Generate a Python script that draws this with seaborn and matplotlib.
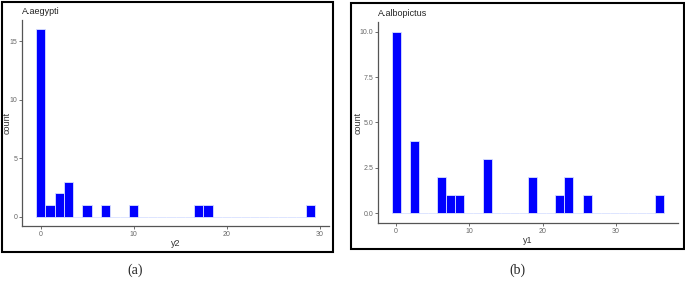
import matplotlib
matplotlib.use("Agg")
import matplotlib.pyplot as plt
import seaborn as sns
from matplotlib.patches import Rectangle
from matplotlib.ticker import FormatStrFormatter

# (a) A.aegypti: bin centres (binwidth 1) and counts
y2_bins = [0, 1, 2, 3, 5, 7, 10, 17, 18, 29]
y2_counts = [16, 1, 2, 3, 1, 1, 1, 1, 1, 1]

# (b) A.albopictus: bin centres (binwidth 36/29) and counts
y1_bins = [0, 2.48, 6.21, 7.45, 8.69, 12.41, 18.62, 22.34, 23.59, 26.07, 36]
y1_counts = [10, 4, 2, 1, 1, 3, 2, 1, 2, 1, 1]

sns.set_style("ticks")
plt.rcParams["font.family"] = ["Liberation Sans", "DejaVu Sans"]

W, H = 685, 282
fig = plt.figure(figsize=(W / 100, H / 100), dpi=100)


def px_axes(left, top, right, bottom):
    return fig.add_axes([left / W, 1 - bottom / H, (right - left) / W, (bottom - top) / H])


def hist_panel(ax, bins, counts, width, lo, hi, title, xlabel, xlim, ylim, yticks, yfmt, ylab_x):
    sns.histplot(x=bins, weights=counts, binwidth=width,
                 binrange=(lo - width / 2, hi + width / 2),
                 color="#0000FF", alpha=1, edgecolor="#D8E0FF", linewidth=0.6, ax=ax)
    ax.set_xlim(*xlim)
    ax.set_ylim(*ylim)
    ax.set_xticks([0, 10, 20, 30])
    ax.set_yticks(yticks)
    ax.yaxis.set_major_formatter(FormatStrFormatter(yfmt))
    for s in ["top", "right"]:
        ax.spines[s].set_visible(False)
    for s in ["left", "bottom"]:
        ax.spines[s].set_color("#555555")
        ax.spines[s].set_linewidth(0.9)
    ax.tick_params(colors="#555555", labelcolor="#666666", labelsize=5,
                   length=2, width=0.6, pad=1.5)
    ax.set_title(title, loc="left", fontsize=6.5, color="#222222", pad=4)
    ax.set_xlabel(xlabel, fontsize=6.5, color="#333333", labelpad=1)
    ax.set_ylabel("count", fontsize=6.5, color="#333333")
    ax.yaxis.set_label_coords(ylab_x, 0.5)


ax1 = px_axes(22, 20, 329, 226)
hist_panel(ax1, y2_bins, y2_counts, 1.0, 0, 29, "A.aegypti", "y2",
           (-2, 31), (-0.8, 16.8), [0, 5, 10, 15], "%d", (12 - 22) / 307)

ax2 = px_axes(378, 22, 678, 223)
hist_panel(ax2, y1_bins, y1_counts, 36 / 29, 0, 36, "A.albopictus", "y1",
           (-2.48, 38.48), (-0.525, 10.525), [0, 2.5, 5, 7.5, 10], "%.1f",
           (363 - 378) / 300)

# panel frames
for (l, t, r, b) in [(1.5, 1.5, 333, 252), (351, 2.5, 683.5, 249)]:
    fig.add_artist(Rectangle((l / W, 1 - b / H), (r - l) / W, (b - t) / H,
                             transform=fig.transFigure, fill=False,
                             edgecolor="black", linewidth=1.5))

fig.text(135 / W, 1 - 270 / H, "(a)", ha="center", va="center",
         fontsize=10, family=["Liberation Serif", "DejaVu Serif"])
fig.text(517 / W, 1 - 270 / H, "(b)", ha="center", va="center",
         fontsize=10, family=["Liberation Serif", "DejaVu Serif"])

fig.savefig("out.png", dpi=100)
